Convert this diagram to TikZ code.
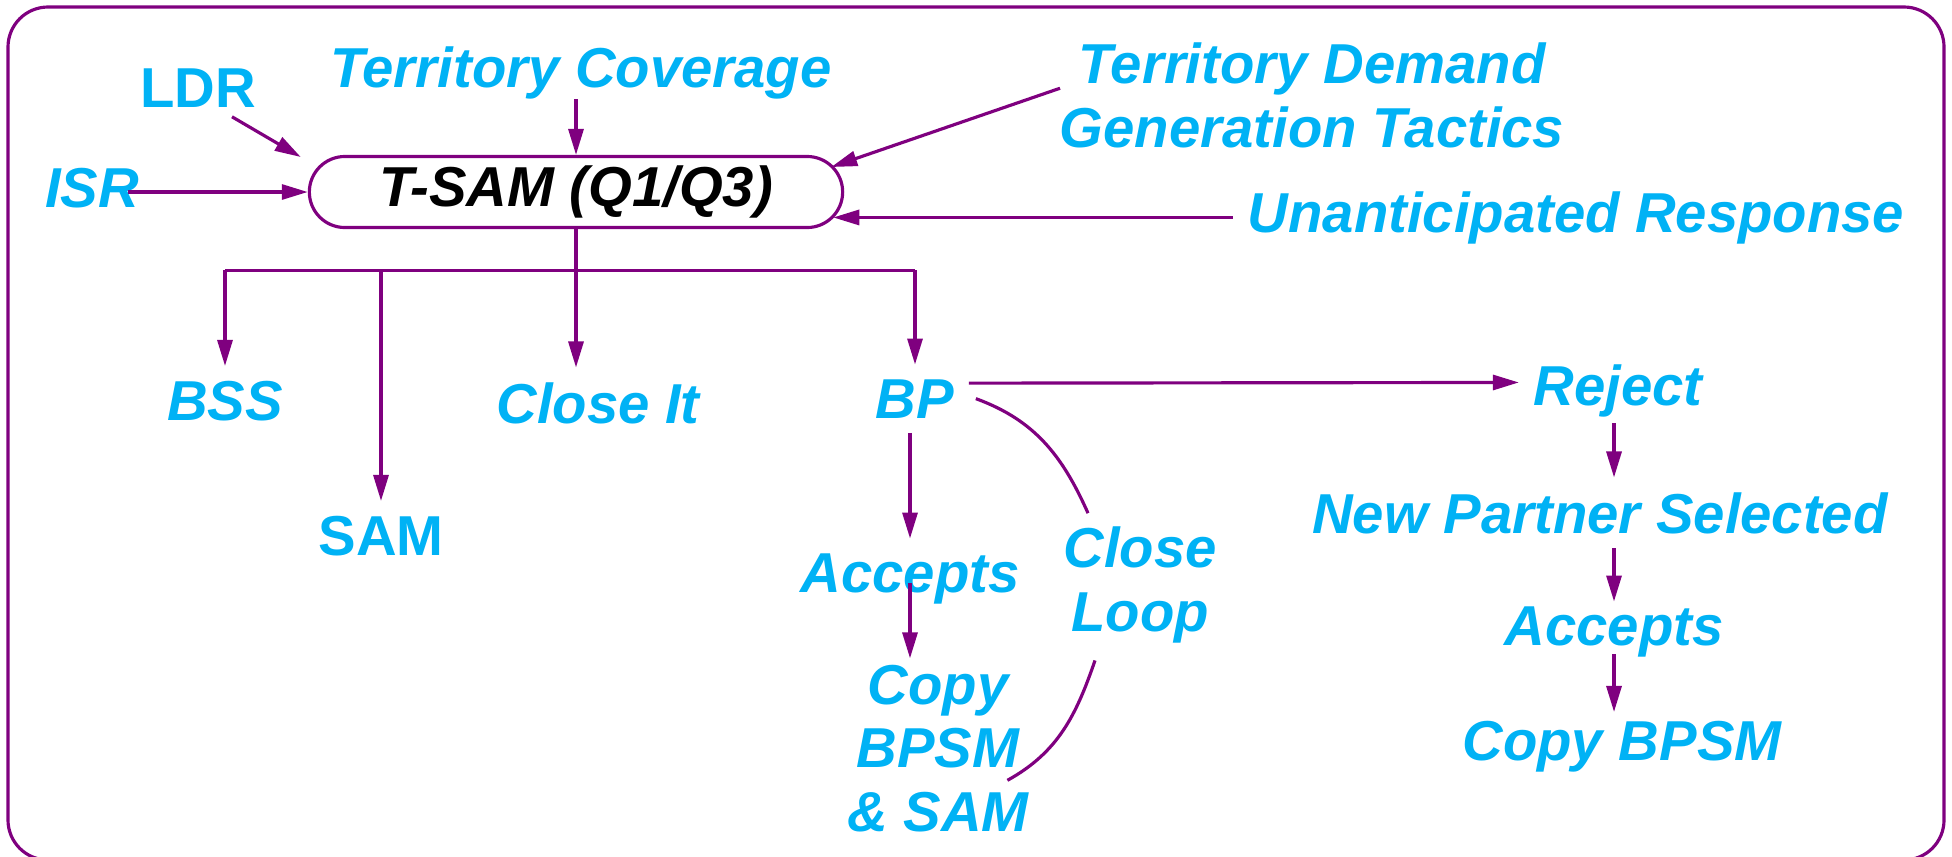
\documentclass[tikz,border=0pt]{standalone}
\usepackage{fontspec}
\setmainfont{Liberation Sans}
\usepackage{tikz}
\usetikzlibrary{arrows.meta,positioning,shapes.misc}
\definecolor{cblue}{HTML}{00B2F5}
\definecolor{cline}{HTML}{7F007F}
\tikzset{
  lbl/.style={text=cblue, font=\bfseries\itshape\fontsize{16}{18}\selectfont, inner sep=4pt},
  lblup/.style={lbl, font=\bfseries\fontsize{16}{18}\selectfont},
  hub/.style={draw=cline, rounded rectangle, line width=0.9pt, minimum width=5.33cm, minimum height=0.71cm, inner sep=0pt, text=black, font=\bfseries\itshape\fontsize{16}{18}\selectfont},
  link/.style={draw=cline, line width=0.9pt},
  arr/.style={link, -{Triangle[length=2.6mm, width=1.5mm]}},
}

\begin{document}
\begin{tikzpicture}[x=0.01cm,y=0.01cm]
\useasboundingbox (0,0) rectangle (1952,856);
\draw[link, rounded corners=0.4cm] (8,-4) rectangle (1944,849);
\node[hub] (tsam) at (576,664) {T-SAM (Q1/Q3)};
\node[lblup, anchor=base] (ldr) at (198,749) {LDR};
\node[lbl, anchor=base] (tc) at (581,769) {Territory Coverage};
\node[lbl, anchor=base, align=center] (tdgt) at (1312,709) {Territory Demand\\Generation Tactics};
\node[lbl, anchor=base] (isr) at (92,649) {ISR};
\node[lbl, anchor=base] (ur) at (1576,624) {Unanticipated Response};
\draw[arr] ([shift={(34,5)}]ldr.south) -- ([shift={(-7,35)}]tsam.west);
\draw[arr, shorten <=-0.14cm] (tc.south -| tsam.north) -- (tsam.north);
\draw[arr] ([shift={(15,7)}]tdgt.west) -- ([shift={(-13,25)}]tsam.east);
\draw[arr, shorten <=-0.26cm] (isr.east |- tsam.west) -- (tsam.west);
\draw[arr, shorten >=-0.11cm] (ur.west) -- (ur.west -| tsam.east);
\node[lbl, anchor=base] (bss) at (225,436) {BSS};
\node[lblup, anchor=base] (sam) at (381,301) {SAM};
\node[lbl, anchor=base] (close) at (598,433) {Close It};
\node[lbl, anchor=base] (bp) at (915,438) {BP};
\draw[link] (tsam.south) -- ++(0,-41) coordinate (fork);
\draw[link] (fork -| bss.north) -- (fork -| bp.north);
\draw[arr] (fork -| bss.north) -- (bss.north);
\draw[arr] (fork -| sam.north) -- (sam.north);
\draw[arr] (fork) -- (fork |- close.north);
\draw[arr] (fork -| bp.north) -- (bp.north);
\node[lbl, anchor=base] (acc) at (910,264) {Accepts};
\node[lbl, anchor=base, align=center] (cpy) at (938,25) {Copy\\BPSM\\\& SAM};
\node[lbl, anchor=base, align=center] (loop) at (1140,225) {Close\\Loop};
\draw[arr] (bp.south -| acc.north) -- (acc.north);
\draw[arr, shorten <=-0.35cm, shorten >=-0.08cm] (acc.south) -- (acc.south |- cpy.north);
\draw[link] ([shift={(7,0)}]bp.east) to[out=-20, in=114] ([shift={(-52,-1)}]loop.north);
\draw[link] ([shift={(-45,-3)}]loop.south) to[out=-109, in=29] ([shift={(-36,-32)}]cpy.east);
\node[lbl, anchor=base] (rej) at (1618,451) {Reject};
\node[lbl, anchor=base] (npsel) at (1600,323) {New Partner Selected};
\node[lbl, anchor=base] (acc2) at (1614,211) {Accepts};
\node[lbl, anchor=base] (cpy2) at (1622,96) {Copy BPSM};
\draw[arr] ([yshift=0.155cm]bp.east) -- ([yshift=0.08cm]rej.west);
\draw[arr, shorten <=-0.08cm] (rej.south -| acc2.north) -- (npsel.north -| acc2.north);
\draw[arr, shorten >=-0.1cm] (npsel.south -| acc2.north) -- (acc2.north);
\draw[arr, shorten <=-0.17cm, shorten >=-0.06cm] (acc2.south) -- (acc2.south |- cpy2.north);
\end{tikzpicture}
\end{document}
